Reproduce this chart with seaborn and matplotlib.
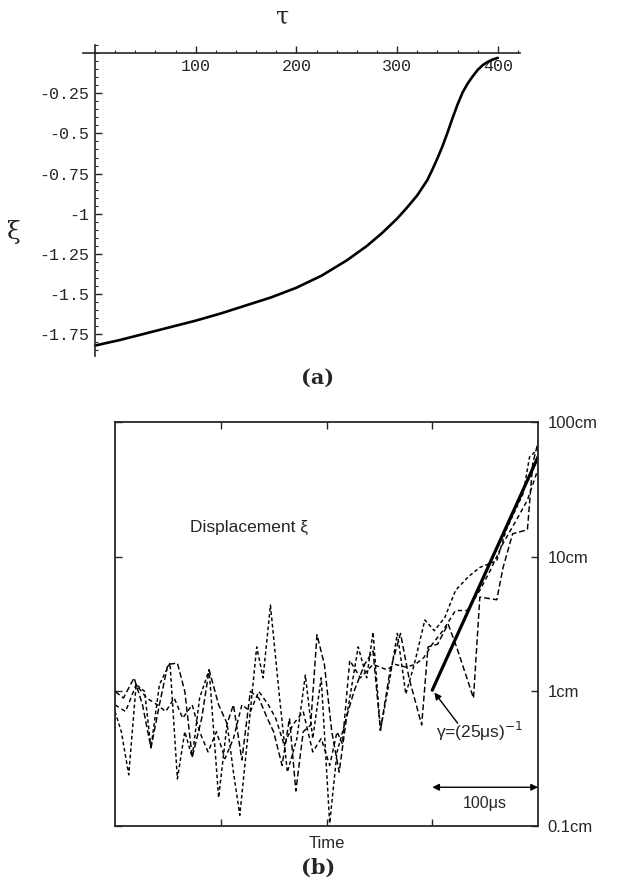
import numpy as np
import pandas as pd
import matplotlib
matplotlib.use('Agg')
import matplotlib.pyplot as plt
from matplotlib.ticker import MultipleLocator, NullLocator
import seaborn as sns

# (a) curve
tau = [0, 25, 50, 75, 100, 125, 150, 175, 200, 225, 250, 270, 285, 300, 310, 320,
       330, 335, 340, 345, 350, 355, 360, 365, 370, 375, 380, 385, 390, 395, 400]
xi = [-1.82, -1.785, -1.745, -1.705, -1.665, -1.62, -1.57, -1.52, -1.46, -1.385,
      -1.29, -1.2, -1.12, -1.03, -0.96, -0.885, -0.79, -0.725, -0.655, -0.58,
      -0.495, -0.405, -0.32, -0.245, -0.19, -0.145, -0.105, -0.075, -0.055,
      -0.04, -0.03]
xi_ticks = [-0.25, -0.5, -0.75, -1, -1.25, -1.5, -1.75]
xi_labels = ['-0.25', '-0.5', '-0.75', '-1', '-1.25', '-1.5', '-1.75']
tau_ticks = [100, 200, 300, 400]

# (b) three noisy traces, time in us, log10 of displacement in cm
t_a = [0, 6, 13, 20, 28, 34, 42, 52, 59, 66, 73, 80, 89, 98, 106, 112, 118, 126,
       134, 140, 147, 155, 163, 172, 180, 187, 195, 203, 210, 219, 230, 238, 244,
       251, 260, 267, 275, 283, 293, 302, 312, 322, 334, 345, 361, 370, 386, 392, 400]
lg_a = [-0.15, -0.30, -0.62, 0.05, 0.0, -0.42, 0.05, 0.21, -0.65, -0.3, -0.49, -0.05,
        0.16, -0.79, -0.24, -0.6, -0.92, -0.3, 0.33, 0.1, 0.64, 0.0, -0.60, -0.35,
        0.12, -0.35, 0.1, -0.98, -0.45, -0.19, 0.33, 0.1, 0.44, -0.29, 0.1, 0.43,
        -0.02, 0.2, 0.53, 0.45, 0.55, 0.75, 0.85, 0.92, 0.97, 1.2, 1.47, 1.74, 1.80]
t_b = [0, 8, 18, 26, 34, 42, 50, 59, 66, 73, 82, 89, 98, 106, 112, 120, 128, 136,
       144, 150, 158, 165, 171, 178, 185, 191, 198, 205, 212, 219, 226, 236, 244,
       251, 260, 270, 278, 290, 296, 305, 315, 323, 339, 345, 361, 367, 376, 390, 395, 400]
lg_b = [0.0, -0.05, 0.10, -0.1, -0.42, -0.1, 0.2, 0.21, 0.0, -0.49, -0.2, 0.16, -0.1,
        -0.24, -0.1, -0.51, 0.0, -0.05, -0.2, -0.3, -0.55, -0.2, -0.74, -0.3, -0.25,
        0.42, 0.2, -0.3, -0.6, -0.19, 0.0, 0.2, 0.3, -0.29, 0.15, 0.43, 0.1, -0.25,
        0.33, 0.35, 0.5, 0.33, -0.05, 0.70, 0.68, 0.92, 1.17, 1.20, 1.69, 1.85]
t_c = [0, 10, 20, 30, 40, 48, 56, 64, 73, 80, 88, 96, 104, 112, 120, 128, 136, 145,
       152, 160, 168, 178, 187, 195, 203, 210, 215, 222, 232, 244, 257, 265, 275,
       284, 292, 300, 310, 322, 333, 345, 355, 367, 378, 390, 400]
lg_c = [-0.1, -0.15, 0.05, -0.05, -0.1, -0.15, -0.05, -0.2, -0.1, -0.3, -0.45, -0.3,
        -0.5, -0.35, -0.1, -0.15, 0.0, -0.1, -0.2, -0.4, -0.25, -0.15, -0.45, -0.35,
        -0.55, -0.3, -0.39, 0.23, 0.1, 0.2, 0.16, 0.2, 0.18, 0.2, 0.25, 0.35, 0.45,
        0.6, 0.6, 0.75, 0.9, 1.1, 1.25, 1.42, 1.65]
fit_t = [300, 400]
fit_cm = [1.02, 55]
cm_ticks = [0.1, 1, 10, 100]
cm_labels = ['0.1cm', '1cm', '10cm', '100cm']

sns.set_style('ticks')
plt.rcParams['font.family'] = ['Liberation Sans', 'DejaVu Sans']

W, H = 637, 888
fig = plt.figure(figsize=(W / 100, H / 100), dpi=100)

# ---- (a) ----
ax1 = fig.add_axes([83 / W, 1 - 356 / H, 437 / W, 311 / H])
sns.lineplot(x=tau, y=xi, ax=ax1, color='black', lw=1.9, sort=False)
ax1.set_xlim(-12, 422)
ax1.set_ylim(-1.885, 0.05)
ax1.spines['left'].set_position(('data', 0))
ax1.spines['bottom'].set_position(('data', 0))
ax1.spines['top'].set_visible(False)
ax1.spines['right'].set_visible(False)
for s in ('left', 'bottom'):
    ax1.spines[s].set_linewidth(1.2)
ax1.set_xticks(tau_ticks)
ax1.set_xticklabels([str(v) for v in tau_ticks])
ax1.set_yticks(xi_ticks)
ax1.set_yticklabels(xi_labels)
ax1.xaxis.set_minor_locator(MultipleLocator(20))
ax1.yaxis.set_minor_locator(MultipleLocator(0.05))
ax1.tick_params(which='major', direction='in', length=5, width=1,
                labelsize=12, pad=4)
ax1.tick_params(which='minor', direction='in', length=2.5, width=0.8)
for lab in ax1.get_xticklabels() + ax1.get_yticklabels():
    lab.set_fontfamily('Liberation Mono')
ax1.set_xlabel('')
ax1.set_ylabel('')
fig.text(283 / W, 1 - 17 / H, 'τ', fontsize=17, family='DejaVu Serif',
         ha='center', va='center')
fig.text(14 / W, 1 - 232 / H, 'ξ', fontsize=18, family='DejaVu Serif',
         ha='center', va='center')
fig.text(318 / W, 1 - 378 / H, '(a)', fontsize=15, family='DejaVu Serif',
         fontweight='bold', ha='center', va='center')

# ---- (b) ----
ax2 = fig.add_axes([115 / W, 1 - 826 / H, 423 / W, 404 / H])
traces = [(t_a, lg_a, (2.5, 1.8)), (t_b, lg_b, (4, 2)), (t_c, lg_c, (3, 2.2))]
for tt, lg, dash in traces:
    df = pd.DataFrame({'t': tt, 'cm': np.power(10.0, lg)})
    sns.lineplot(data=df, x='t', y='cm', ax=ax2, color='black', lw=1.05,
                 sort=False, linestyle=(0, dash))
sns.lineplot(x=fit_t, y=fit_cm, ax=ax2, color='black', lw=2.3, sort=False)
ax2.set_yscale('log')
ax2.set_xlim(0, 400)
ax2.set_ylim(0.1, 100)
ax2.set_xticks([100, 200, 300])
ax2.set_xticklabels([])
ax2.yaxis.set_minor_locator(NullLocator())
ax2.set_yticks(cm_ticks)
ax2.set_yticklabels(cm_labels)
ax2.yaxis.tick_right()
ax2.tick_params(axis='both', which='major', direction='in', length=5, width=1,
                top=True, bottom=True, left=True, right=True, labelsize=12,
                labelleft=False, labelright=True, pad=7)
for s in ax2.spines.values():
    s.set_linewidth(1.3)
    s.set_visible(True)
ax2.set_xlabel('Time', fontsize=12, labelpad=0)
ax2.set_ylabel('')

ax2.text(71, 16.5, 'Displacement ξ', fontsize=12.5, ha='left', va='center')
ax2.annotate('', xy=(302, 0.98), xytext=(324, 0.58),
             arrowprops=dict(arrowstyle='-|>', color='black', lw=1,
                             mutation_scale=10, shrinkA=0, shrinkB=0))
ax2.text(345, 0.5, 'γ=(25μs)$^{-1}$', fontsize=12.5, ha='center', va='center')
ax2.annotate('', xy=(300, 0.194), xytext=(400, 0.194),
             arrowprops=dict(arrowstyle='<|-|>', color='black', lw=1,
                             mutation_scale=10, shrinkA=0, shrinkB=0))
ax2.text(350, 0.148, '100μs', fontsize=11.5, ha='center', va='center')
fig.text(318 / W, 1 - 868 / H, '(b)', fontsize=15, family='DejaVu Serif',
         fontweight='bold', ha='center', va='center')

fig.savefig('out.png', dpi=100)
